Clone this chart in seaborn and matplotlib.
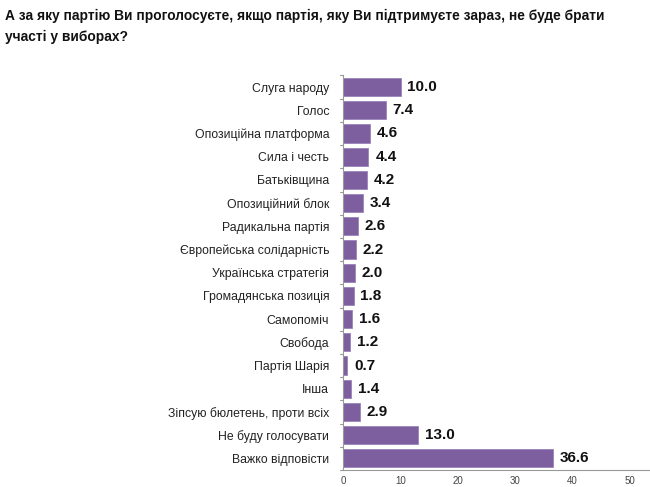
import pandas as pd
import seaborn as sns
import matplotlib.pyplot as plt

title = ("А за яку партію Ви проголосуєте, якщо партія, яку Ви підтримуєте зараз, не буде брати\n"
         "участі у виборах?")

parties = ['Слуга народу', 'Голос', 'Опозиційна платформа', 'Сила і честь', 'Батьківщина',
           'Опозиційний блок', 'Радикальна партія', 'Європейська солідарність',
           'Українська стратегія', 'Громадянська позиція', 'Самопоміч', 'Свобода',
           'Партія Шарія', 'Інша', 'Зіпсую бюлетень, проти всіх', 'Не буду голосувати',
           'Важко відповісти']
values = [10.0, 7.4, 4.6, 4.4, 4.2, 3.4, 2.6, 2.2, 2.0, 1.8, 1.6, 1.2, 0.7, 1.4, 2.9, 13.0, 36.6]
xticks = [0, 10, 20, 30, 40, 50]

df = pd.DataFrame({'party': parties, 'value': values})

sns.set_style('white')
plt.rcParams['font.family'] = ['Liberation Sans', 'DejaVu Sans']

fig = plt.figure(figsize=(6.5, 4.87), dpi=100)
ax = fig.add_axes([0.528, 0.035, 0.472, 0.81])

sns.barplot(data=df, y='party', x='value', color='#7d5fa0', saturation=1, width=0.78,
            edgecolor='#9a85b8', linewidth=0.6, ax=ax)

for i, v in enumerate(values):
    ax.text(v + 1.2, i, f'{v:.1f}', va='center', ha='left', fontsize=11,
            fontweight='bold', color='#111111')

ax.set_xlim(0, 53.5)
ax.set_xticks(xticks)
ax.set_xticklabels([str(t) for t in xticks], fontsize=7, color='#444444')
ax.set_xlabel('')
ax.set_ylabel('')
ax.tick_params(axis='y', labelsize=8.8, length=0, pad=10, labelcolor='#222222')
ax.tick_params(axis='x', length=3, color='#999999', direction='inout', pad=3)

# category separators on the y axis, Excel style
for k in range(len(parties) + 1):
    ax.plot([-0.5, 0], [k - 0.5, k - 0.5], color='#999999', lw=0.8, clip_on=False)

for side in ['top', 'right']:
    ax.spines[side].set_visible(False)
ax.spines['left'].set_color('#999999')
ax.spines['bottom'].set_color('#999999')
ax.set_ylim(len(parties) - 0.5, -0.5)

fig.text(0.008, 0.982, title, ha='left', va='top', fontsize=9.9, fontweight='bold',
         color='#111111', linespacing=1.65)

fig.savefig('out.png', dpi=100)
